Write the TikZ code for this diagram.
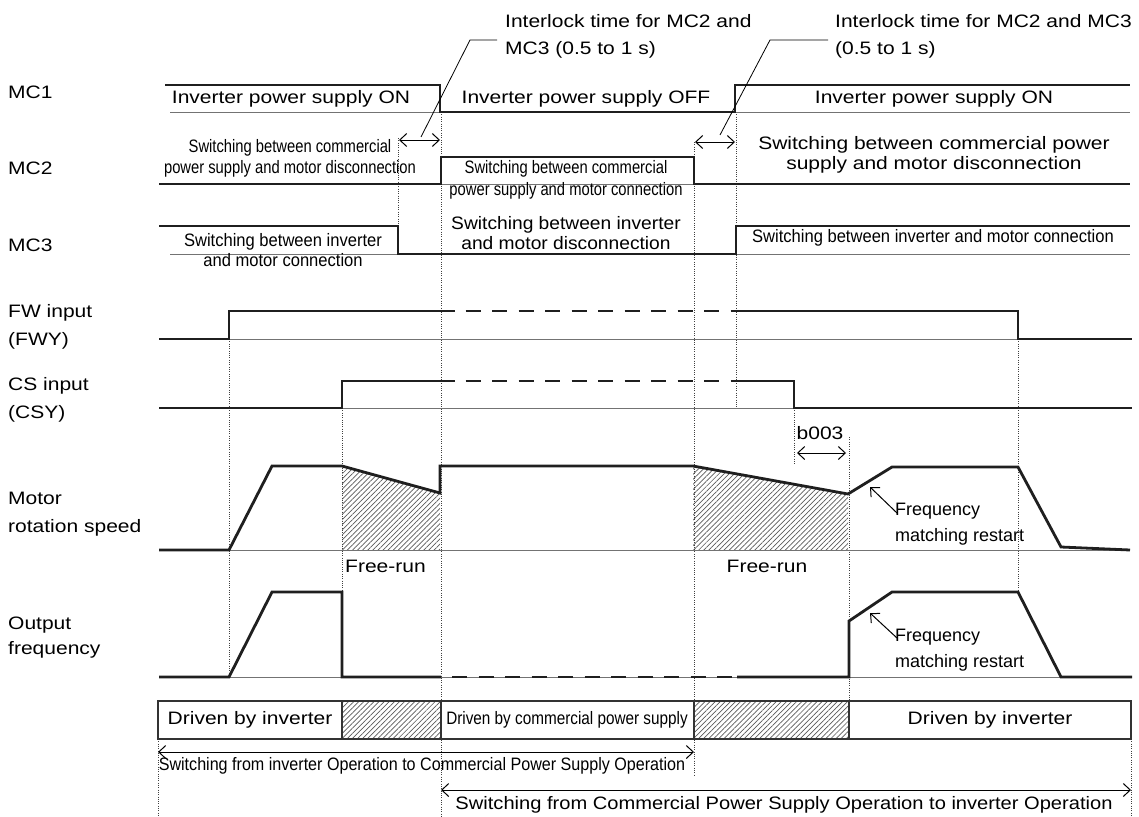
\documentclass[tikz,border=0pt]{standalone}
\usepackage{fontspec}
\setmainfont{Liberation Sans}
\newfontfamily\fW[FakeStretch=1.167]{Liberation Sans}
\newfontfamily\fA[FakeStretch=1.067]{Liberation Sans}
\newfontfamily\fB[FakeStretch=1.0]{Liberation Sans}
\newfontfamily\fC[FakeStretch=0.92]{Liberation Sans}
\newfontfamily\fD[FakeStretch=0.895]{Liberation Sans}
\newfontfamily\fN[FakeStretch=0.82]{Liberation Sans}
\newfontfamily\fE[FakeStretch=0.85]{Liberation Sans}
\newfontfamily\fF[FakeStretch=1.117]{Liberation Sans}
\usetikzlibrary{arrows.meta,patterns.meta}
\begin{document}
\begin{tikzpicture}[x=1pt,y=-1pt,
  sig/.style={line width=2.8pt, draw=black!88, line join=miter},
  base/.style={line width=0.9pt, draw=black!55},
  dots/.style={line width=0.8pt, draw=black!75, dash pattern=on 0.9pt off 1.4pt},
  dbl/.style={line width=1pt, {Straight Barb[length=7pt,width=13pt]}-{Straight Barb[length=7pt,width=13pt]}},
  sarr/.style={line width=1pt, -{Straight Barb[length=7pt,width=13pt]}},
  lead/.style={line width=0.8pt},
  hatch/.style={pattern={Lines[angle=45,distance=3.6pt,line width=0.7pt]}, pattern color=black!65},
  tw/.style={font=\fW\fontsize{18}{21}\selectfont, inner sep=0pt},
  tl/.style={font=\fW\fontsize{18}{28}\selectfont, inner sep=0pt, anchor=west, align=left},
  ta/.style={font=\fA\fontsize{18}{20}\selectfont, inner sep=0pt, align=center},
  tb/.style={font=\fB\fontsize{18}{26}\selectfont, inner sep=0pt, anchor=west, align=left},
  tc/.style={font=\fC\fontsize{18}{20}\selectfont, inner sep=0pt, align=center},
  tn/.style={font=\fN\fontsize{18}{21}\selectfont, inner sep=0pt, align=center},
  tf/.style={font=\fF\fontsize{18}{21}\selectfont, inner sep=0pt, align=center}
]
\useasboundingbox (0,0) rectangle (1139,816);

% ---------- left labels
\node[tl] (lmc1) at (8,92) {MC1};
\node[tl] (lmc2) at (8,168) {MC2};
\node[tl] (lmc3) at (8,245) {MC3};
\node[tl] (lfw) at (8,327) {FW input\\(FWY)};
\node[tl] (lcs) at (8,400) {CS input\\(CSY)};
\node[tl] (lmot) at (8,514) {Motor\\rotation speed};
\node[tl,font=\fW\fontsize{18}{25}\selectfont] (lout) at (8,638) {Output\\frequency};

% ---------- hatched areas
\fill[hatch] (342,466) -- (440,493) -- (440,550) -- (342,550) -- cycle;
\fill[hatch] (693,467) -- (848,494) -- (848,550) -- (693,550) -- cycle;
\fill[hatch] (342,701) rectangle (441,739);
\fill[hatch] (694,701) rectangle (849,739);

% ---------- dotted guide lines
\draw[dots] (398,138) -- (398,226);
\draw[dots] (441,112) -- (441,816);
\draw[dots] (694,142) -- (694,775);
\draw[dots] (736,112) -- (736,408);
\draw[dots] (794,408) -- (794,465);
\draw[dots] (849,437) -- (849,701);
\draw[dots] (1018,339) -- (1018,592);
\draw[dots] (229,339) -- (229,677);
\draw[dots] (342,408) -- (342,592);
\draw[dots] (158,739) -- (158,816);
\draw[dots] (1131,739) -- (1131,816);

% ---------- baselines
\draw[base] (170,112) -- (1130,112);
\draw[base] (159,184) -- (1130,184);
\draw[base] (170,254) -- (1130,254);
\draw[base] (159,339) -- (1132,339);
\draw[base] (159,408) -- (1132,408);
\draw[base] (159,550) -- (1130,550);
\draw[base] (159,677) -- (1132,677);

% ---------- MC1
\draw[sig] (165,85) -- (440,85) -- (440,112) -- (735,112) -- (735,85) -- (1130,85);
\node[tw] (t1a) at (291,99) {Inverter power supply ON};
\node[tw] (t1b) at (586,99) {Inverter power supply OFF};
\node[tw] (t1c) at (934,99) {Inverter power supply ON};

% ---------- MC2
\draw[sig] (159,184) -- (441,184) -- (441,157) -- (694,157) -- (694,184) -- (1130,184);
\node[tn] (t2a) at (290,158) {Switching between commercial\\power supply and motor disconnection};
\node[tn,font=\fN\fontsize{18}{22}\selectfont] (t2b) at (566,180) {Switching between commercial\\power supply and motor connection};
\node[tf,font=\fW\fontsize{18}{20}\selectfont] (t2c) at (934,155) {Switching between commercial power\\supply and motor disconnection};

% ---------- MC3
\draw[sig] (159,226) -- (398,226) -- (398,254) -- (736,254) -- (736,226) -- (1130,226);
\node[tc] (t3a) at (283,250) {Switching between inverter\\and motor connection};
\node[ta] (t3b) at (566,233) {Switching between inverter\\and motor disconnection};
\node[tc] (t3c) at (933,238) {Switching between inverter and motor connection};

% ---------- interlock annotations
\node[tw,anchor=west,align=left,font=\fW\fontsize{18}{27}\selectfont] (il1) at (505,36) {Interlock time for MC2 and\\MC3 (0.5 to 1 s)};
\node[tw,anchor=west,align=left,font=\fW\fontsize{18}{27}\selectfont] (il2) at (835,36) {Interlock time for MC2 and MC3\\(0.5 to 1 s)};
\coordinate (l1a) at (497,40);
\coordinate (l1b) at (470,40);
\coordinate (l1c) at (421,137);
\draw[lead] (l1a) -- (l1b) -- (l1c);
\coordinate (l2a) at (828,40);
\coordinate (l2b) at (770,40);
\coordinate (l2c) at (720,135);
\draw[lead] (l2a) -- (l2b) -- (l2c);
\coordinate (ia1) at (399,140);
\coordinate (ia2) at (440,140);
\draw[dbl] (ia1) -- (ia2);
\coordinate (ib1) at (695,142);
\coordinate (ib2) at (735,142);
\draw[dbl] (ib1) -- (ib2);

% ---------- FW input
\draw[sig] (159,339) -- (229,339) -- (229,311) -- (455,311);
\foreach \k in {0,...,9} \draw[sig] ({465.5+26.5*\k},311) -- ++(15,0);
\draw[sig] (730.5,311) -- (1018,311) -- (1018,339) -- (1132,339);

% ---------- CS input
\draw[sig] (159,408) -- (342,408) -- (342,381) -- (455,381);
\foreach \k in {0,...,9} \draw[sig] ({465.5+26.5*\k},381) -- ++(15,0);
\draw[sig] (730.5,381) -- (794,381) -- (794,408) -- (1132,408);

% ---------- b003
\node[tw] (b003) at (820,433) {b003};
\coordinate (ba) at (797,453);
\coordinate (bb) at (846,453);
\draw[dbl] (ba) -- (bb);

% ---------- Motor rotation speed
\draw[sig] (159,550) -- (229,550) -- (272,466) -- (342,466) -- (440,493) -- (440,466) -- (693,466)
  -- (848,494) -- (892,467) -- (1018,467) -- (1061,547) -- (1130,550);
\node[tw,anchor=west] (fr1) at (345,566) {Free-run};
\node[tw] (fr2) at (767,566) {Free-run};
\node[tb] (fm1) at (895,524) {Frequency\\matching restart};
\coordinate (fm1s) at (897,513);
\coordinate (fm1t) at (870,487);
\draw[sarr] (fm1s) -- (fm1t);

% ---------- Output frequency
\draw[sig] (159,677) -- (229,677) -- (272,592) -- (342,592) -- (342,677) -- (441,677);
\foreach \k in {0,...,10} \draw[sig] ({452+26.5*\k},677) -- ++(15,0);
\draw[sig] (737,677) -- (849,677) -- (849,621) -- (892,592) -- (1018,592) -- (1061,677) -- (1132,677);
\node[tb] (fm2) at (895,650) {Frequency\\matching restart};
\coordinate (fm2s) at (897,638);
\coordinate (fm2t) at (870,613);
\draw[sarr] (fm2s) -- (fm2t);

% ---------- bottom bar
\draw[line width=1.1pt, draw=black!80] (158,701) rectangle (1131,739);
\draw[line width=1.1pt, draw=black!80] (342,701) -- (342,739) (441,701) -- (441,739) (694,701) -- (694,739) (849,701) -- (849,739);
\node[tw] (d1) at (250,720) {Driven by inverter};
\node[tn,font=\fE\fontsize{18}{20}\selectfont] (d2) at (567,720) {Driven by commercial power supply};
\node[tw] (d3) at (990,720) {Driven by inverter};

\coordinate (s1a) at (158,752);
\coordinate (s1b) at (694,752);
\draw[dbl] (s1a) -- (s1b);
\node[tc,font=\fD\fontsize{18}{20}\selectfont] (s1t) at (422,766) {Switching from inverter Operation to Commercial Power Supply Operation};
\coordinate (s2a) at (441,790);
\coordinate (s2b) at (1131,790);
\draw[dbl] (s2a) -- (s2b);
\node[tf] (s2t) at (784,805) {Switching from Commercial Power Supply Operation to inverter Operation};
\end{tikzpicture}
\end{document}
